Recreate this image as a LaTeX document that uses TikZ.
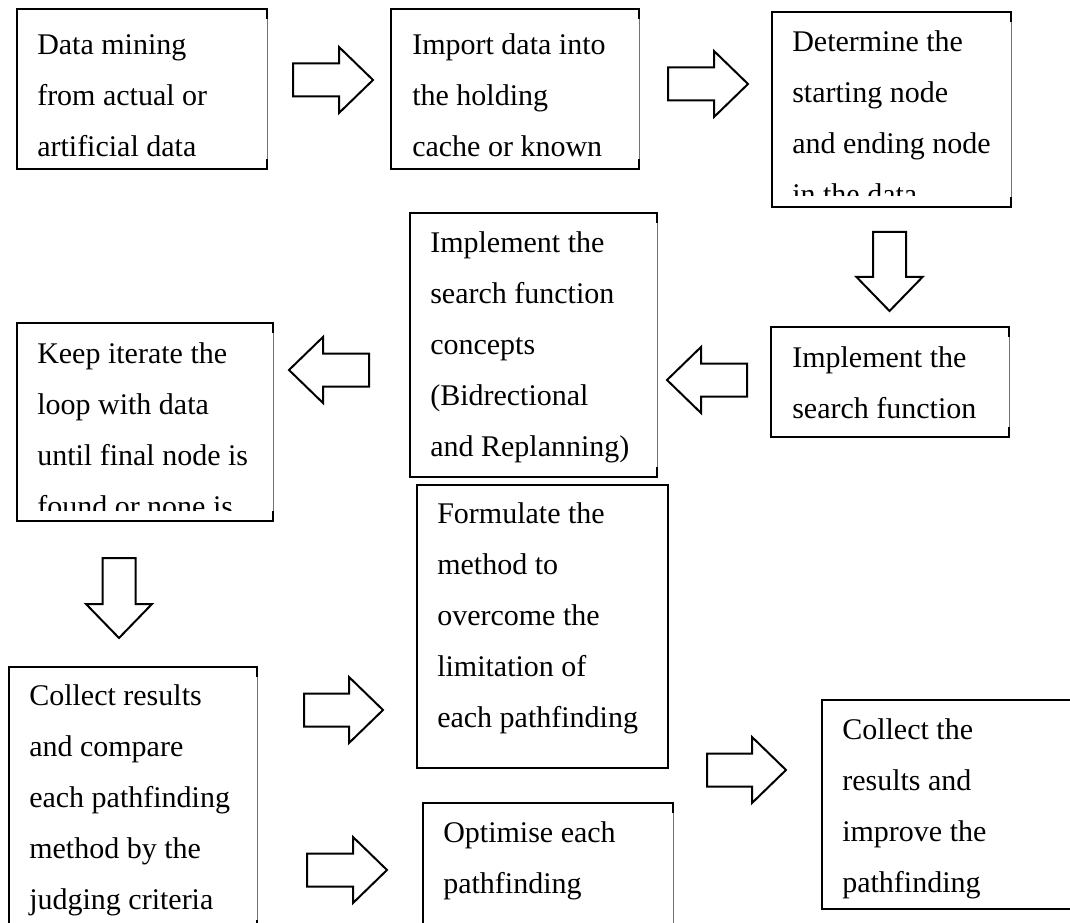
\documentclass[tikz,border=0pt]{standalone}
\usepackage{fontspec}
\setmainfont{Liberation Serif}
\usetikzlibrary{fit}

\tikzset{
  boxarea/.style={inner sep=0pt, draw=none},
  frameline/.style={line width=1.6pt, line join=miter, draw=black},
  sideline/.style={line width=0.7pt, draw=black!55},
  boxtext/.style={inner sep=0pt, align=left,
    font=\fontsize{22.5}{38.25}\selectfont},
  arrowshape/.style={line width=1.5pt, line join=miter, draw=black, fill=white},
}

% text box: name, left, top, right, bottom, text left, first baseline, lines
\newcommand\flowbox[8]{%
  \node[boxarea, fit={(#2,#3) (#4,#5)}] (#1) {};
  \draw[sideline] (#1.north east) -- (#1.south east);
  \draw[frameline] (#4,{#3+10}) -- (#4,#3) -- (#2,#3) -- (#2,#5) -- (#4,#5) -- (#4,{#5-10});
  \begin{scope}
    \clip (#2,#3) rectangle (#4,{#5-11});
    \node[boxtext, anchor=north west] (#1-t) at (#6,{#7-35.7}) {\strut #8};
  \end{scope}
}

% hollow block arrow: name, tail x, tail y, direction angle, length
\newcommand\blockarrow[5]{%
  \coordinate (#1) at (#2,#3);
  \draw[arrowshape, shift={(#2,#3)}, rotate=#4]
    (0,-16.5) -- ({#5-34},-16.5) -- ({#5-34},-33) -- (#5,0)
    -- ({#5-34},33) -- ({#5-34},16.5) -- (0,16.5) -- cycle;
}

\begin{document}
\begin{tikzpicture}[x=0.75pt,y=-0.75pt]
\useasboundingbox (0,0) rectangle (1070,923);
\clip (0,0) rectangle (1070,923);
\fill[white] (0,0) rectangle (1070,923);

% top row
\flowbox{mine}{17}{9}{267}{169}{37}{54}{Data mining\\from actual or\\artificial data}
\flowbox{import}{391}{9}{639}{169}{412}{54}{Import data into\\the holding\\cache or known}
\flowbox{ends}{772}{12}{1011}{207}{792}{51}{Determine the\\starting node\\and ending node\\in the data}

% middle row
\flowbox{search}{771}{327}{1009}{437}{792}{367}{Implement the\\search function}
\flowbox{concepts}{410}{213}{657}{477}{430}{252}{Implement the\\search function\\concepts\\(Bidrectional\\and Replanning)}
\flowbox{loop}{17}{323}{273}{521}{37}{363}{Keep iterate the\\loop with data\\until final node is\\found or none is}

% bottom rows
\flowbox{compare}{9}{667}{257}{930}{29}{705}{Collect results\\and compare\\each pathfinding\\method by the\\judging criteria}
\flowbox{formulate}{417}{485}{668}{768}{437}{523}{Formulate the\\method to\\overcome the\\limitation of\\each pathfinding}
\draw[frameline] (formulate.north east) -- (formulate.south east);
\flowbox{optimise}{423}{803}{673}{940}{443}{842}{Optimise each\\pathfinding}
\flowbox{improve}{822}{700}{1080}{909}{842}{739}{Collect the\\results and\\improve the\\pathfinding}

% flow arrows
\blockarrow{a1}{293}{80}{0}{80}
\blockarrow{a2}{668}{84}{0}{80}
\blockarrow{a3}{889.5}{232}{-90}{79}
\blockarrow{a4}{747}{380}{180}{80}
\blockarrow{a5}{369}{370}{180}{80}
\blockarrow{a6}{119}{558}{-90}{80}
\blockarrow{a7}{304}{710}{0}{79}
\blockarrow{a8}{307}{870}{0}{80}
\blockarrow{a9}{707}{770}{0}{79}
\end{tikzpicture}
\end{document}
